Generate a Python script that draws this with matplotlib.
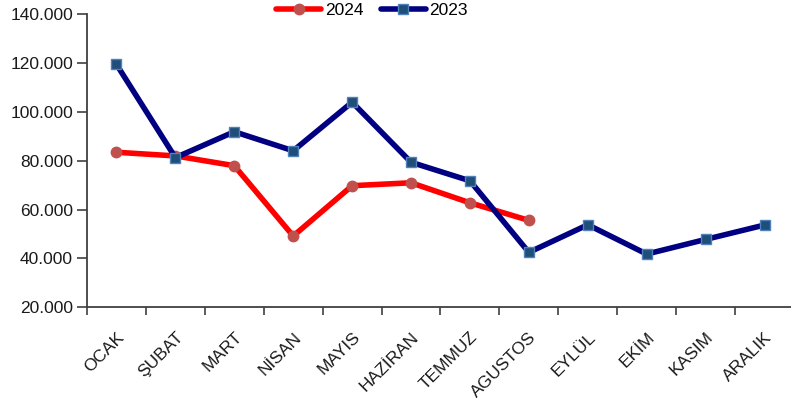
import matplotlib
matplotlib.use("Agg")
import matplotlib.pyplot as plt
import numpy as np

months = ["OCAK", "ŞUBAT", "MART", "NİSAN", "MAYIS", "HAZİRAN", "TEMMUZ",
          "AGUSTOS", "EYLÜL", "EKİM", "KASIM", "ARALIK"]
values_2024 = [83500, 82000, 78000, 49200, 69800, 71000, 62800, 55600]
values_2023 = [119500, 81300, 91900, 84100, 104000, 79400, 71800, 42500,
               53800, 41800, 47800, 53700]
yticks = [20000, 40000, 60000, 80000, 100000, 120000, 140000]
ytick_labels = ["20.000", "40.000", "60.000", "80.000", "100.000", "120.000", "140.000"]

plt.rcParams['font.family'] = ['Liberation Sans', 'DejaVu Sans']

fig = plt.figure(figsize=(7.91, 4.03), dpi=100)
ax = fig.add_axes([87/791, 95.7/403, (794-87)/791, 293/403])

x24 = np.arange(len(values_2024))
x23 = np.arange(len(values_2023))
ax.plot(x24, values_2024, color='#ff0000', lw=4.0, marker='o', ms=7.5,
        mfc='#c0504d', mec='#c0504d', label='2024', zorder=3, solid_capstyle='round')
ax.plot(x23, values_2023, color='#000080', lw=4.0, marker='s', ms=7,
        mfc='#1f4e79', mec='#4f81bd', mew=1.0, label='2023', zorder=4, solid_capstyle='round')

ax.set_xlim(-0.5, 11.5)
ax.set_ylim(20000, 140000)
ax.set_yticks(yticks)
ax.set_yticklabels(ytick_labels, fontsize=12.5, color='#1a1a1a')
ax.set_xticks(np.arange(len(months)))
ax.set_xticklabels(months, rotation=45, ha='right', va='top', rotation_mode='anchor',
                   fontsize=12.5, color='#1a1a1a')
ax.set_xticks(np.arange(-0.5, 12, 1), minor=True)
ax.tick_params(axis='x', which='major', length=0, pad=16)
ax.tick_params(axis='x', which='minor', length=6, width=1.2, color='#404040', direction='out')
ax.tick_params(axis='y', length=7, width=1.2, color='#404040', direction='out', pad=3)

for s in ['top', 'right']:
    ax.spines[s].set_visible(False)
for s in ['left', 'bottom']:
    ax.spines[s].set_color('#404040')
    ax.spines[s].set_linewidth(1.3)

leg = ax.legend(loc='center', bbox_to_anchor=(372/791, 1 - 10/403), bbox_transform=fig.transFigure,
                ncol=2, frameon=False, fontsize=12.5, handlelength=2.6, handletextpad=0.2,
                columnspacing=1.0, borderpad=0)

fig.savefig("out.png", dpi=100)
